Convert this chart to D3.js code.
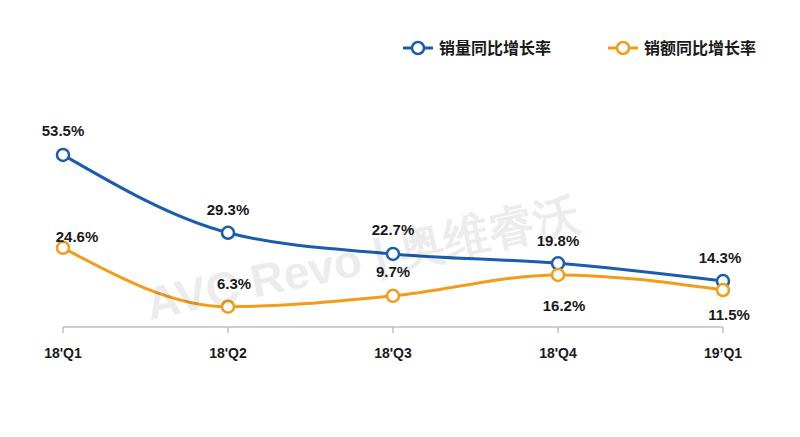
<!DOCTYPE html>
<html><head><meta charset="utf-8">
<script src="https://cdn.jsdelivr.net/npm/d3@7"></script>
<style>body{margin:0;background:#fff}svg{display:block;font-family:"Liberation Sans",Arial,sans-serif}</style>
</head><body><svg id="c" width="800" height="437"></svg>
<script>
const categories=["18'Q1","18'Q2","18'Q3","18'Q4","19’Q1"];
const volumeGrowth=[53.5,29.3,22.7,19.8,14.3];
const salesGrowth=[24.6,6.3,9.7,16.2,11.5];
const seriesNames=["销量同比增长率","销额同比增长率"];
const colors=["#1a5cad","#f39c19"];
const svg=d3.select("#c");
const x=d3.scalePoint().domain(categories).range([63,723]);
const y=d3.scaleLinear().domain([0,60]).range([327,134]);
svg.append("line").attr("x1",63).attr("x2",723).attr("y1",327).attr("y2",327).attr("stroke","#bfbfbf").attr("stroke-width",1.5);
categories.forEach(c=>{
 svg.append("line").attr("x1",x(c)).attr("x2",x(c)).attr("y1",327).attr("y2",333).attr("stroke","#bfbfbf").attr("stroke-width",1.5);
 svg.append("text").attr("x",x(c)).attr("y",358).attr("text-anchor","middle").attr("font-size",14).attr("font-weight","bold").attr("fill","#1a1a1a").text(c);
});
const line=d3.line().x((d,i)=>x(categories[i])).y(d=>y(d)).curve(d3.curveMonotoneX);
const labelOff=[[[0,-19],[0,-18],[0,-19],[0,-17],[-3,-18]],[[14,-6],[6,-18],[0,-19],[6,36],[6,30]]];
[volumeGrowth,salesGrowth].forEach((s,k)=>{
 svg.append("path").attr("d",line(s)).attr("fill","none").attr("stroke",colors[k]).attr("stroke-width",3);
 s.forEach((v,i)=>{
  svg.append("circle").attr("cx",x(categories[i])).attr("cy",y(v)).attr("r",6).attr("fill","#fff").attr("stroke",colors[k]).attr("stroke-width",2.5);
  svg.append("text").attr("x",x(categories[i])+labelOff[k][i][0]).attr("y",y(v)+labelOff[k][i][1]).attr("text-anchor","middle").attr("font-size",15).attr("font-weight","bold").attr("fill","#1a1a1a").text(v.toFixed(1)+"%");
 });
});
const lx=[403,608];
seriesNames.forEach((n,k)=>{
 const g=svg.append("g");
 g.append("line").attr("x1",lx[k]).attr("x2",lx[k]+30).attr("y1",48).attr("y2",48).attr("stroke",colors[k]).attr("stroke-width",3);
 g.append("circle").attr("cx",lx[k]+15).attr("cy",48).attr("r",6).attr("fill","#fff").attr("stroke",colors[k]).attr("stroke-width",2.5);
 g.append("text").attr("x",lx[k]+36).attr("y",54).attr("font-size",16).attr("font-weight","bold").attr("fill","#1a1a1a").attr("font-family","Noto Sans CJK SC").text(n);
});
svg.append("text").attr("x",150).attr("y",320).attr("font-size",46).attr("font-weight","bold").attr("fill","#000").attr("opacity",0.07).attr("transform","rotate(-12,150,320)").text("AVC Revo | 奥维睿沃");
</script></body></html>
